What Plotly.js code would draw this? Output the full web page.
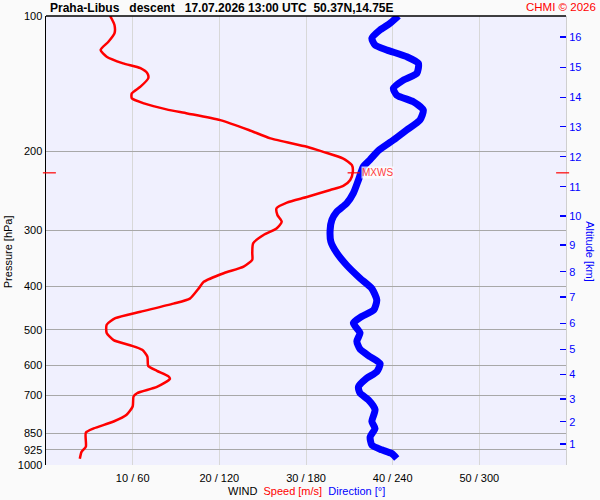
<!DOCTYPE html>
<html>
<head>
<meta charset="utf-8">
<script src="https://cdn.plot.ly/plotly-3.0.1.min.js"></script>
<style>
  body { margin: 0; background: #fafafa; }
  #chart { width: 600px; height: 500px; }
</style>
</head>
<body>
<div id="chart"></div>
<script>
// wind speed profile (pressure hPa / speed m/s)
var speedPressure = [100, 104.7, 109.3, 114.1, 119, 123.2, 127.5, 130.7, 134.2, 137.6, 143.7, 148.7, 152.5, 156.5,
    161.4, 164.8, 170.6, 179.4, 187.3, 195.5, 200.7, 207.7, 214.9, 222.4, 231.8, 239, 244, 253, 260.3, 268, 277.5,
    287.3, 297.4, 307.4, 320.8, 337, 349, 361.6, 374, 390.9, 404.7, 426, 437, 455.7, 471, 487, 508, 527, 541, 554,
    574, 602, 617, 634, 643, 670, 692, 704, 741, 773, 800, 829, 847, 910, 935, 969];
var speed = [7.4, 7.9, 7.9, 7.2, 6.3, 7.0, 8.9, 10.9, 11.7, 11.8, 10.9, 9.9, 9.9, 11.3,
    13.9, 16.3, 20.1, 23.4, 25.9, 30.1, 32.0, 34.3, 35.3, 35.4, 35.1, 34.3, 32.8, 30.1, 27.8, 26.6, 26.7,
    27.2, 26.6, 25.1, 23.9, 23.8, 23.8, 22.8, 20.5, 18.2, 17.6, 16.6, 14.7, 10.9, 8.0, 7.0, 7.0, 7.8, 9.7, 11.1,
    11.7, 11.8, 12.8, 14.1, 14.3, 12.8, 10.5, 10.1, 10.0, 9.3, 7.8, 5.5, 4.6, 4.6, 4.1, 3.9];

// wind direction profile (pressure hPa / direction deg)
var dirPressure = [100, 103.8, 107.4, 112.1, 116, 119, 123.2, 127.5, 134.2, 138.9, 144.9, 150, 155.2, 162, 170.4,
    179.4, 188.9, 199, 208.8, 216.5, 231.8, 248, 261.2, 272.9, 284.6, 299.6, 318, 337, 359, 383.7, 404.7, 429,
    451, 467, 483, 508, 530, 552, 574, 595, 620, 641, 670, 692, 716, 753, 800, 829, 866, 903, 925, 943, 967];
var direction = [244, 238.2, 231.3, 225.6, 227.8, 235.9, 249.7, 257.8, 256.7, 247.4, 240.5, 242.8, 254.3, 261.2, 258.9,
    249.7, 240.5, 230.5, 224.4, 219.7, 216.3, 212.8, 208.2, 201.3, 197.9, 196.7, 197.2, 201.3, 208.2, 217.4, 225.6, 229,
    227, 218.6, 212.8, 217.4, 215.2, 217.4, 224.4, 231.3, 229, 222, 216.3, 217.4, 223.2, 227.8, 225.6, 227.8, 224.4, 225.6, 232.4, 239.4, 242.8];

// axes
var pressureTicks = [100, 200, 300, 400, 500, 600, 700, 850, 925, 1000];
var windTicks = [10, 20, 30, 40, 50];
var windTickText = ['10 / 60', '20 / 120', '30 / 180', '40 / 240', '50 / 300'];
var altitudeKm = [1, 2, 3, 4, 5, 6, 7, 8, 9, 10, 11, 12, 13, 14, 15, 16];
var altitudePressure = [898, 801, 713, 628, 552.5, 483.5, 423, 371, 323.6, 278.9, 240, 205.8, 176.4, 151.8, 130.1, 111.5];

// max wind
var maxSpeed = 35.4;
var maxPressure = 223.5;

var font = 'Liberation Sans, Arial, sans-serif';

var data = [
    {
        x: speed,
        y: speedPressure,
        xaxis: 'x',
        yaxis: 'y',
        type: 'scatter',
        mode: 'lines',
        line: { color: '#ff0000', width: 2.5, shape: 'spline', smoothing: 0.6 },
        hoverinfo: 'none'
    },
    {
        x: direction,
        y: dirPressure,
        xaxis: 'x2',
        yaxis: 'y2',
        type: 'scatter',
        mode: 'lines',
        line: { color: '#0000ff', width: 7, shape: 'spline', smoothing: 0.6 },
        hoverinfo: 'none'
    }
];

// shapes on a log axis take data values
var shapes = [
    // left / right markers of max wind level
    { type: 'line', xref: 'paper', yref: 'y', x0: -0.006, x1: 0.019, y0: maxPressure, y1: maxPressure, line: { color: '#ff0000', width: 1.2 } },
    { type: 'line', xref: 'paper', yref: 'y', x0: 0.981, x1: 1.006, y0: maxPressure, y1: maxPressure, line: { color: '#ff0000', width: 1.2 } },
    { type: 'line', xref: 'x', yref: 'y', x0: maxSpeed - 0.6, x1: maxSpeed + 0.8, y0: maxPressure, y1: maxPressure, line: { color: '#ff0000', width: 1.2 } },
    // frame
    { type: 'line', xref: 'paper', yref: 'paper', x0: 0, x1: 1, y0: 1, y1: 1, line: { color: '#000000', width: 1.5 } }
];

var annotations = [
    {
        xref: 'x', yref: 'y', x: maxSpeed + 1.0, y: Math.log10(maxPressure), xanchor: 'left', yanchor: 'middle',
        text: 'MXWS', showarrow: false, bgcolor: 'rgba(255,255,255,0.75)', borderpad: 0,
        font: { family: font, size: 10, color: '#ff4040' }
    },
    {
        xref: 'paper', yref: 'paper', x: -0.073, y: 0.474, xanchor: 'center', yanchor: 'middle', textangle: -90, showarrow: false,
        text: 'Pressure [hPa]', font: { family: font, size: 11, color: '#000000' }
    },
    {
        xref: 'paper', yref: 'paper', x: 1.046, y: 0.474, xanchor: 'center', yanchor: 'middle', textangle: 90, showarrow: false,
        text: 'Altitude [km]', font: { family: font, size: 11, color: '#0000ff' }
    },
    {
        xref: 'paper', yref: 'paper', x: 0.5, y: -0.058, yanchor: 'middle', showarrow: false,
        text: 'WIND  <span style="color:#ff0000">Speed [m/s]</span>  <span style="color:#0000ff">Direction [°]</span>',
        font: { family: font, size: 11, color: '#000000' }
    },
    {
        xref: 'paper', yref: 'paper', x: 1.0 + 32 / 520, y: 1.0 + 9 / 449, xanchor: 'right', yanchor: 'middle',
        showarrow: false, text: 'CHMI © 2026', font: { family: font, size: 11.5, color: '#ff0000' }
    }
];

var layout = {
    width: 600,
    height: 500,
    margin: { l: 46, r: 34, t: 16, b: 35 },
    paper_bgcolor: '#fafafa',
    plot_bgcolor: '#f0f0fe',
    showlegend: false,
    title: {
        text: '<b>Praha-Libus   descent   17.07.2026 13:00 UTC  50.37N,14.75E</b>',
        x: 50 / 600, xanchor: 'left',
        y: 1 - 8 / 500, yanchor: 'middle',
        font: { family: font, size: 12, color: '#000000' }
    },
    xaxis: {
        range: [0, 60],
        tickvals: windTicks,
        ticktext: windTickText,
        ticks: '',
        ticklabelstandoff: 5,
        showgrid: true,
        gridcolor: '#d8d8d8',
        zeroline: false,
        showline: false,
        tickfont: { family: font, size: 11, color: '#000000' }
    },
    xaxis2: {
        range: [0, 360],
        overlaying: 'x',
        anchor: 'y2',
        visible: false
    },
    yaxis: {
        type: 'log',
        range: [3, 2],
        tickvals: pressureTicks,
        ticktext: pressureTicks.map(String),
        ticks: '',
        showgrid: true,
        gridcolor: '#a8a8a8',
        gridwidth: 1.2,
        zeroline: false,
        showline: true,
        linecolor: '#000000',
        linewidth: 1.5,
        tickfont: { family: font, size: 11, color: '#000000' }
    },
    yaxis2: {
        type: 'log',
        range: [3, 2],
        overlaying: 'y',
        side: 'right',
        anchor: 'x2',
        tickvals: altitudePressure,
        ticktext: altitudeKm.map(String),
        ticks: 'inside',
        ticklen: 6,
        tickwidth: 1.5,
        tickcolor: '#0000ff',
        showgrid: false,
        zeroline: false,
        showline: true,
        linecolor: '#cfcfcf',
        linewidth: 1,
        tickfont: { family: font, size: 11, color: '#0000ff' }
    },
    shapes: shapes,
    annotations: annotations
};

Plotly.newPlot('chart', data, layout, { displayModeBar: false, staticPlot: true });
</script>
</body>
</html>
